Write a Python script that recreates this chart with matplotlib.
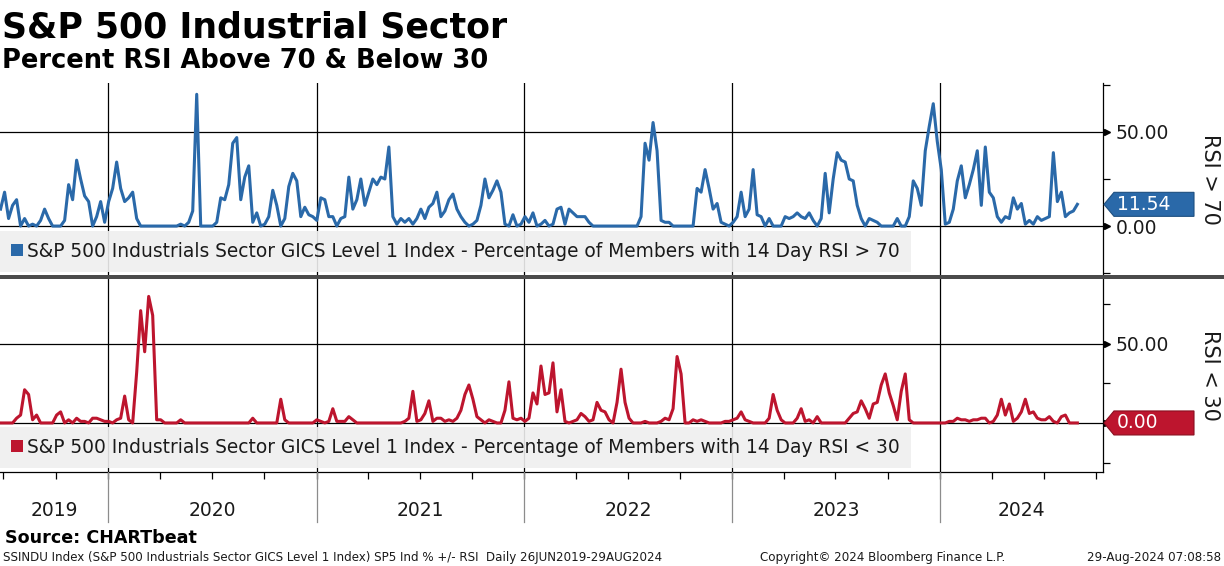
import matplotlib
matplotlib.use("Agg")
import matplotlib.pyplot as plt
import matplotlib.dates as mdates
from matplotlib.patches import Patch, Polygon, Rectangle
from matplotlib.transforms import IdentityTransform
import pandas as pd

plt.rcParams["font.family"] = ["DejaVu Sans"]

# weekly readings, 26 Jun 2019 .. 29 Aug 2024
START, END = "2019-06-26", "2024-08-29"
rsi_above_70 = [
    9, 18, 4, 11, 14, 0, 4, 0, 1, 0,
    3, 9, 4, 0, 0, 0, 3, 22, 14, 35,
    25, 16, 13, 0, 5, 13, 2, 13, 20, 34,
    20, 13, 15, 18, 4, 0, 0, 0, 0, 0,
    0, 0, 0, 0, 0, 1, 0, 2, 8, 70,
    0, 0, 0, 0, 2, 15, 14, 22, 44, 47,
    14, 26, 32, 2, 7, 0, 1, 5, 19, 11,
    0, 4, 21, 28, 24, 5, 10, 6, 5, 3,
    15, 14, 5, 5, 0, 4, 5, 26, 9, 14,
    25, 11, 18, 25, 22, 26, 25, 42, 5, 1,
    4, 2, 4, 1, 4, 9, 4, 10, 12, 18,
    5, 8, 14, 17, 9, 5, 2, 0, 1, 3,
    11, 25, 15, 19, 24, 18, 1, 0, 6, 0,
    1, 5, 2, 7, 0, 1, 3, 0, 1, 9,
    10, 1, 9, 7, 5, 5, 5, 2, 0, 0,
    0, 0, 0, 0, 0, 0, 0, 0, 0, 0,
    5, 44, 35, 55, 40, 3, 2, 2, 0, 0,
    0, 0, 0, 0, 20, 18, 30, 20, 9, 12,
    2, 1, 0, 2, 5, 18, 5, 9, 30, 6,
    5, 0, 4, 0, 0, 0, 5, 4, 5, 7,
    5, 4, 7, 3, 0, 4, 28, 7, 25, 39,
    35, 34, 25, 24, 11, 4, 0, 4, 3, 2,
    0, 0, 0, 0, 4, 0, 0, 5, 24, 20,
    11, 40, 53, 65, 45, 30, 1, 2, 9, 24,
    32, 15, 22, 30, 40, 11, 42, 18, 15, 5,
    2, 5, 4, 15, 9, 12, 1, 3, 1, 5,
    3, 4, 5, 39, 13, 18, 5, 7, 8, 11.54,
]
rsi_below_30 = [
    0, 0, 0, 0, 3, 5, 21, 18, 2, 5,
    0, 0, 0, 0, 5, 7, 0, 2, 0, 3,
    1, 1, 0, 3, 3, 2, 1, 1, 0, 2,
    3, 17, 2, 0, 32, 71, 45, 80, 68, 2,
    2, 0, 0, 0, 0, 2, 0, 0, 0, 0,
    0, 0, 0, 0, 0, 0, 0, 0, 0, 0,
    0, 0, 0, 3, 0, 0, 0, 0, 0, 0,
    15, 2, 0, 0, 0, 0, 0, 0, 0, 2,
    1, 0, 1, 9, 1, 1, 1, 4, 2, 0,
    0, 0, 0, 0, 0, 0, 0, 0, 0, 0,
    0, 1, 3, 20, 1, 2, 6, 14, 1, 3,
    3, 1, 2, 1, 3, 8, 18, 24, 15, 4,
    2, 0, 2, 1, 0, 0, 8, 26, 3, 2,
    3, 1, 3, 19, 12, 36, 18, 19, 38, 7,
    21, 1, 0, 1, 2, 6, 4, 1, 2, 13,
    8, 7, 2, 0, 13, 34, 13, 3, 0, 0,
    0, 1, 0, 0, 0, 1, 3, 2, 9, 42,
    31, 0, 0, 2, 1, 2, 1, 0, 0, 0,
    0, 1, 1, 2, 3, 7, 2, 1, 0, 0,
    0, 0, 3, 18, 8, 2, 0, 0, 0, 3,
    9, 1, 2, 0, 4, 0, 0, 0, 0, 0,
    0, 0, 3, 6, 7, 14, 9, 3, 12, 13,
    24, 31, 19, 11, 2, 20, 31, 2, 0, 0,
    0, 0, 0, 0, 0, 0, 0, 1, 1, 3,
    2, 2, 1, 2, 2, 3, 3, 0, 1, 5,
    15, 5, 12, 1, 3, 7, 15, 6, 7, 3,
    2, 2, 4, 1, 0, 4, 5, 0, 0, 0.00,
]
years = [2019, 2020, 2021, 2022, 2023, 2024]
yticks = [0, 50]
minor_yticks = [-25, 25, 75]

LABEL_70 = "S&P 500 Industrials Sector GICS Level 1 Index - Percentage of Members with 14 Day RSI > 70"
LABEL_30 = "S&P 500 Industrials Sector GICS Level 1 Index - Percentage of Members with 14 Day RSI < 30"

BLUE = "#2a69a9"
RED = "#bd152e"
TXT = "#1a1a1a"

dates = pd.date_range(START, END, periods=len(rsi_above_70))
XLIM = (pd.Timestamp("2019-06-25"), pd.Timestamp("2024-10-13"))

W, H = 1224, 566
fig = plt.figure(figsize=(W / 100, H / 100), dpi=100)


def px_axes(x0, y0, x1, y1):
    return fig.add_axes([x0 / W, 1 - y1 / H, (x1 - x0) / W, (y1 - y0) / H])


def value_tag(ax, value, color, edge):
    fig.canvas.draw()
    x0 = ax.transAxes.transform((1, 0))[0]
    y0 = ax.transData.transform((0, value))[1]
    h = 12
    verts = [(x0 + 1, y0), (x0 + 11, y0 + h), (x0 + 91, y0 + h),
             (x0 + 91, y0 - h), (x0 + 11, y0 - h)]
    fig.add_artist(Polygon(verts, closed=True, transform=IdentityTransform(),
                           facecolor=color, edgecolor=edge, lw=0.8))
    fig.text((x0 + 14) / W, y0 / H, f"{value:.2f}", color="white", fontsize=13.5,
             va="center", ha="left")


def panel(ax, values, color, ylim, label, side_label, legend_y):
    ax.plot(dates, values, color=color, lw=2.2, zorder=3)
    ax.set_xlim(XLIM)
    ax.set_ylim(ylim)
    for v in yticks:
        ax.axhline(v, color="k", lw=0.9, zorder=1)
    for yr in years[1:]:
        ax.axvline(pd.Timestamp(f"{yr}-01-01"), color="k", lw=0.9, zorder=1)

    for s in ["top", "left", "bottom"]:
        ax.spines[s].set_visible(False)
    ax.spines["right"].set_linewidth(0.9)
    ax.yaxis.tick_right()
    ax.set_yticks(yticks)
    ax.set_yticklabels([f"{v:.2f}" for v in yticks], fontsize=13.5, color=TXT)
    ax.set_yticks(minor_yticks, minor=True)
    ax.tick_params(axis="y", which="major", length=0, pad=9)
    ax.tick_params(axis="y", which="minor", length=5, direction="out", width=0.9)
    ax.plot([1.004] * len(yticks), yticks, transform=ax.get_yaxis_transform(),
            marker=">", ms=5, color="k", ls="none", clip_on=False)
    ax.set_xticks([])

    ax.text(1.097, 0.5, side_label, rotation=-90, transform=ax.transAxes,
            ha="center", va="center", fontsize=15, color=TXT)

    leg = ax.legend(handles=[Patch(facecolor=color, label=label)],
                    loc="lower left", bbox_to_anchor=(0, legend_y),
                    borderaxespad=0, borderpad=0.6, fancybox=False,
                    facecolor="#efefef", edgecolor="none", framealpha=0.9,
                    fontsize=13.4, handlelength=0.62, handleheight=0.62,
                    handletextpad=0.25, labelcolor=TXT)
    leg.set_zorder(5)


ax_top = px_axes(0, 83, 1103, 275)
ax_bot = px_axes(0, 279, 1103, 472)
ax_year = px_axes(0, 472, 1103, 524)

panel(ax_top, rsi_above_70, BLUE, (-26, 76), LABEL_70, "RSI > 70", 0.016)
panel(ax_bot, rsi_below_30, RED, (-31, 91), LABEL_30, "RSI < 30", 0.021)

# bottom axis with quarterly ticks
ax_bot.spines["bottom"].set_visible(True)
ax_bot.spines["bottom"].set_linewidth(0.9)
ax_bot.xaxis.set_major_locator(mdates.MonthLocator(bymonth=[1, 4, 7, 10]))
ax_bot.xaxis.set_major_formatter(plt.NullFormatter())
ax_bot.tick_params(axis="x", length=5, direction="out", width=0.9)

# year band
ax_year.set_xlim(XLIM)
ax_year.set_ylim(0, 1)
ax_year.axis("off")
edges = [XLIM[0]] + [pd.Timestamp(f"{yr}-01-01") for yr in years[1:]] + [XLIM[1]]
for e in edges[1:-1]:
    ax_year.axvline(e, ymin=0.04, ymax=1, color="#8c8c8c", lw=0.9)
for yr, a, b in zip(years, edges[:-1], edges[1:]):
    ax_year.text(a + (b - a) / 2, 0.25, str(yr), ha="center", va="center",
                 fontsize=13.5, color=TXT)

# separator between panels
fig.add_artist(Rectangle((0, 1 - 279 / H), 1, 4 / H, transform=fig.transFigure,
                         facecolor="#4b4b4b", edgecolor="none"))

value_tag(ax_top, rsi_above_70[-1], BLUE, "#1d4f80")
value_tag(ax_bot, rsi_below_30[-1], RED, "#8a0f20")

fig.text(2 / W, 1 - 37 / H, "S&P 500 Industrial Sector", fontsize=25,
         weight="bold", va="baseline", color="black")
fig.text(2 / W, 1 - 68 / H, "Percent RSI Above 70 & Below 30", fontsize=18.5,
         weight="bold", va="baseline", color="black")
fig.text(5 / W, 1 - 543 / H, "Source: CHARTbeat", fontsize=12.6, weight="bold",
         va="baseline", color="black")
fig.text(3 / W, 1 - 561 / H,
         "SSINDU Index (S&P 500 Industrials Sector GICS Level 1 Index) SP5 Ind % +/- RSI  Daily 26JUN2019-29AUG2024",
         fontsize=8.6, va="baseline", color=TXT)
fig.text(760 / W, 1 - 561 / H, "Copyright\u00a9 2024 Bloomberg Finance L.P.",
         fontsize=8.6, va="baseline", color=TXT)
fig.text(1221 / W, 1 - 561 / H, "29-Aug-2024 07:08:58", fontsize=8.6,
         va="baseline", ha="right", color=TXT)

fig.savefig("out.png", dpi=100, facecolor="white")
